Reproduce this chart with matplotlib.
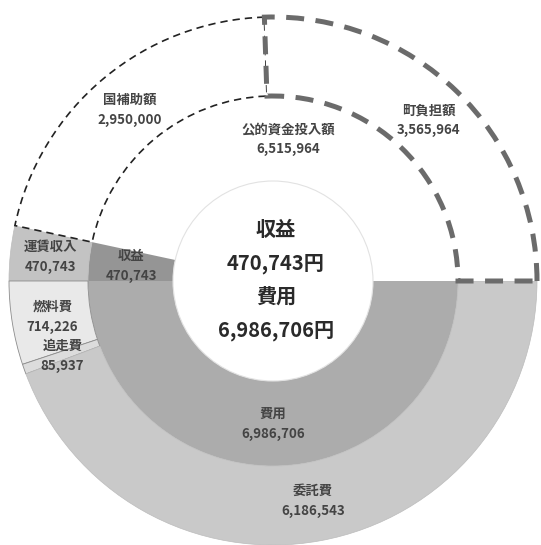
import numpy as np
import matplotlib.pyplot as plt

plt.rcParams['font.family'] = ['Noto Sans CJK JP', 'DejaVu Sans']

# inner ring: 収支
inner_labels = ["公的資金投入額", "収益", "費用"]
inner_values = [6515964, 470743, 6986706]
inner_colors = ["white", "#959595", "#acacac"]

# outer ring: 内訳
outer_labels = ["町負担額", "国補助額", "運賃収入", "燃料費", "追走費", "委託費"]
outer_values = [3565964, 2950000, 470743, 714226, 85937, 6186543]
outer_colors = ["white", "white", "#c3c3c3", "#e9e9e9", "#dcdcdc", "#c9c9c9"]

center_lines = ["収益", "470,743円", "費用", "6,986,706円"]

# layout (pixels)
W, H = 541, 545
cx, cy = 273, 281
R_out = 264
R_mid = 185
R_hole = 100

fig = plt.figure(figsize=(W / 100, H / 100), dpi=100)
ax = fig.add_axes([0, 0, 1, 1])

w_in, _ = ax.pie(inner_values, radius=R_mid, colors=inner_colors, startangle=0,
                 counterclock=True,
                 wedgeprops=dict(width=R_mid - R_hole, edgecolor="none"))
w_out, _ = ax.pie(outer_values, radius=R_out, colors=outer_colors, startangle=0,
                  counterclock=True,
                  wedgeprops=dict(width=R_out - R_mid, edgecolor="#bcbcbc", linewidth=0.5))

# separators around the small slices
for w in w_out[3:5]:
    w.set_edgecolor("#8c8c8c")
    w.set_linewidth(0.6)

# 国補助額: thin black dashes
w_out[1].set_edgecolor("#222222")
w_out[1].set_linewidth(1.2)
w_out[1].set_linestyle((0, (4.4, 3.0)))
w_out[1].set_zorder(2)

# 町負担額: thick gray dashes
w_out[0].set_edgecolor("#6b6b6b")
w_out[0].set_linewidth(3.6)
w_out[0].set_linestyle((0, (3.6, 2.3)))
w_out[0].set_zorder(3)

hole = plt.Circle((0, 0), R_hole, facecolor="white", edgecolor="#e2e2e2", linewidth=0.8)
ax.add_patch(hole)


def place_labels(wedges, labels, values, r):
    for w, lab, v in zip(wedges, labels, values):
        ang = np.deg2rad((w.theta1 + w.theta2) / 2)
        ax.text(r * np.cos(ang), r * np.sin(ang), f"{lab}\n{v:,}",
                ha="center", va="center", fontsize=9.6, fontweight="bold",
                color="#444444", linespacing=1.55, zorder=5)


place_labels(w_in, inner_labels, inner_values, (R_mid + R_hole) / 2)
place_labels(w_out, outer_labels, outer_values, (R_out + R_mid) / 2 - 1)

ax.text(3, 1, "\n".join(center_lines), ha="center", va="center", fontsize=14.5,
        fontweight="bold", color="#2a2a2a", linespacing=1.72, zorder=5)

ax.set_xlim(-cx, W - cx)
ax.set_ylim(-(H - cy), cy)
ax.set_aspect("equal")
ax.axis("off")

fig.savefig("out.png", dpi=100, facecolor="white")
